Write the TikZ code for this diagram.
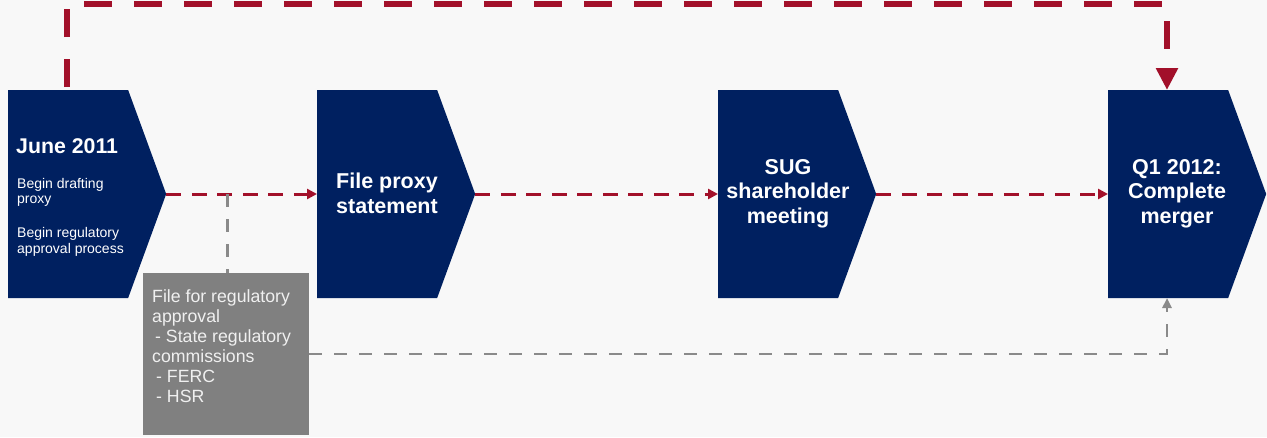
\documentclass[tikz,border=0pt]{standalone}
\usepackage{fontspec}
\setmainfont{Liberation Sans}
\usetikzlibrary{shapes.symbols,arrows.meta,calc}
\definecolor{navy}{RGB}{0,32,96}
\definecolor{mred}{RGB}{162,16,42}
\definecolor{gbox}{RGB}{128,128,128}
\definecolor{gline}{RGB}{138,138,138}
\definecolor{bgc}{RGB}{248,248,248}
\begin{document}
\begin{tikzpicture}[x=1pt,y=-1pt,
  chev/.style={signal, signal to=east, signal pointer angle=139.8, fill=navy, draw=none,
    minimum width=158pt, minimum height=208pt, inner sep=0pt, anchor=west},
  bigtxt/.style={text=white, align=center, inner sep=0pt, font=\fontsize{21.5}{24.5}\selectfont\bfseries},
  smalltxt/.style={text=white, align=left, inner sep=0pt, font=\fontsize{14}{15.5}\selectfont},
  graytxt/.style={text=white!94!black, align=left, inner sep=0pt, font=\fontsize{17.7}{20}\selectfont},
  bigdash/.style={draw=mred, line width=6pt, dash pattern=on 28pt off 22pt, -{Triangle[length=22pt,width=21pt]}},
  reddash/.style={draw=mred, line width=3pt, dash pattern=on 15pt off 10.5pt, -{Triangle[length=10pt,width=10pt]}},
  graydash/.style={draw=gline, line width=2.5pt, dash pattern=on 12.5pt off 12.5pt},
  grayarrow/.style={graydash, -{Triangle[length=10pt,width=9pt]}}
]
\fill[bgc] (0,0) rectangle (1267,437);
\useasboundingbox (0,0) rectangle (1267,437);

% process shapes
\node[chev] (s1) at (8,194) {};
\node[chev] (s2) at (317,194) {};
\node[chev] (s3) at (718,194) {};
\node[chev] (s4) at (1108,194) {};

% gray box
\node[fill=gbox, minimum width=166pt, minimum height=162pt, inner sep=0pt, anchor=north west] (g) at (143,273) {};

% texts
\node[text=white, inner sep=0pt, anchor=base west, font=\fontsize{21.3}{24}\selectfont\bfseries] (t1) at (16,153) {June 2011};
\node[smalltxt, anchor=north west] (t1b) at (17,177.8) {Begin drafting\\proxy\\[18.5pt]Begin regulatory\\approval process};
\node[bigtxt] (t2) at (387,193.5) {File proxy\\statement};
\node[bigtxt] (t3) at (788,193.5) {SUG\\shareholder\\meeting};
\node[bigtxt] (t4) at (1177,193.5) {Q1 2012:\\Complete\\merger};
\node[graytxt, anchor=north west] (gt) at (152,289) {File for regulatory\\approval\\\hspace{3pt}- State regulatory\\commissions\\\hspace{4pt}- FERC\\\hspace{4pt}- HSR};

% connectors
\coordinate (top1) at ($(s1.west)+(59,-104)$);
\coordinate (top4) at ($(s4.west)+(59,-104)$);
\coordinate (bot4) at ($(s4.west)+(59,104)$);
\draw[bigdash, dash phase=-3pt] (top1) -- (top1 |- 0,4) -| (top4);
\draw[reddash] (s1.east) -- (s2.west);
\draw[reddash] (s2.east) -- (s3.west);
\draw[reddash] (s3.east) -- (s4.west);
\coordinate (gj) at ($(s1.east)!0.404!(s2.west)$);
\draw[graydash] (gj) -- (gj |- g.north);
\draw[grayarrow] (g.east) -| (bot4);
\end{tikzpicture}
\end{document}
